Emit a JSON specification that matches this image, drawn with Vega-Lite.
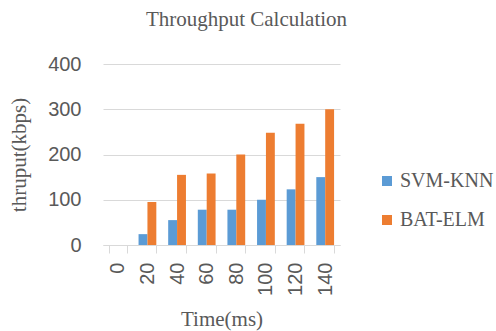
{
  "$schema": "https://vega.github.io/schema/vega-lite/v6.json",
  "autosize": {"type": "none"},
  "padding": {"left": 103, "top": 64, "right": 156, "bottom": 86},
  "width": 237,
  "height": 181,
  "background": "white",
  "title": {
    "text": "Throughput Calculation",
    "font": "Liberation Serif",
    "fontSize": 21,
    "fontWeight": "normal",
    "color": "#595959",
    "anchor": "middle",
    "frame": "group",
    "dx": 25,
    "baseline": "alphabetic",
    "offset": 7
  },
  "data": {
    "values": [
      {"Time": 0, "Method": "SVM-KNN", "Value": 0},
      {"Time": 0, "Method": "BAT-ELM", "Value": 0},
      {"Time": 20, "Method": "SVM-KNN", "Value": 24},
      {"Time": 20, "Method": "BAT-ELM", "Value": 95},
      {"Time": 40, "Method": "SVM-KNN", "Value": 55},
      {"Time": 40, "Method": "BAT-ELM", "Value": 155},
      {"Time": 60, "Method": "SVM-KNN", "Value": 78},
      {"Time": 60, "Method": "BAT-ELM", "Value": 158},
      {"Time": 80, "Method": "SVM-KNN", "Value": 78},
      {"Time": 80, "Method": "BAT-ELM", "Value": 200},
      {"Time": 100, "Method": "SVM-KNN", "Value": 100},
      {"Time": 100, "Method": "BAT-ELM", "Value": 248},
      {"Time": 120, "Method": "SVM-KNN", "Value": 123},
      {"Time": 120, "Method": "BAT-ELM", "Value": 268},
      {"Time": 140, "Method": "SVM-KNN", "Value": 150},
      {"Time": 140, "Method": "BAT-ELM", "Value": 300}
    ]
  },
  "mark": {"type": "bar"},
  "encoding": {
    "x": {
      "field": "Time",
      "type": "ordinal",
      "scale": {"paddingInner": 0.4, "paddingOuter": 0.2},
      "axis": {
        "title": "Time(ms)",
        "titleFont": "Liberation Serif",
        "titleFontSize": 21,
        "titleFontWeight": "normal",
        "titleColor": "#595959",
        "titlePadding": 13,
        "labelFont": "Liberation Sans",
        "labelFontSize": 20,
        "labelColor": "#595959",
        "labelAngle": -90,
        "labelAlign": "right",
        "labelBaseline": "middle",
        "labelPadding": 9,
        "tickBand": "extent",
        "tickSize": 8,
        "tickColor": "#d9d9d9",
        "domainColor": "#d9d9d9",
        "grid": false
      }
    },
    "xOffset": {
      "field": "Method",
      "type": "nominal",
      "sort": ["SVM-KNN", "BAT-ELM"],
      "scale": {"paddingInner": 0, "paddingOuter": 0}
    },
    "y": {
      "field": "Value",
      "type": "quantitative",
      "scale": {"domain": [0, 400], "nice": false},
      "axis": {
        "title": "thruput(kbps)",
        "titleFont": "Liberation Serif",
        "titleFontSize": 21,
        "titleFontWeight": "normal",
        "titleColor": "#595959",
        "titlePadding": 18,
        "values": [0, 100, 200, 300, 400],
        "labelFont": "Liberation Sans",
        "labelFontSize": 20,
        "labelColor": "#595959",
        "labelPadding": 22,
        "ticks": false,
        "tickSize": 0,
        "domain": false,
        "grid": true,
        "gridColor": "#d9d9d9"
      }
    },
    "color": {
      "field": "Method",
      "type": "nominal",
      "sort": ["SVM-KNN", "BAT-ELM"],
      "scale": {"domain": ["SVM-KNN", "BAT-ELM"], "range": ["#5B9BD5", "#ED7D31"]},
      "legend": {
        "title": null,
        "orient": "none",
        "legendX": 274,
        "legendY": 107,
        "symbolType": "square",
        "symbolSize": 100,
        "symbolStrokeWidth": 0,
        "labelFont": "Liberation Serif",
        "labelFontSize": 20,
        "labelColor": "#595959",
        "labelOffset": 3,
        "labelLimit": 0,
        "rowPadding": 19
      }
    }
  },
  "config": {"view": {"stroke": null}}
}
